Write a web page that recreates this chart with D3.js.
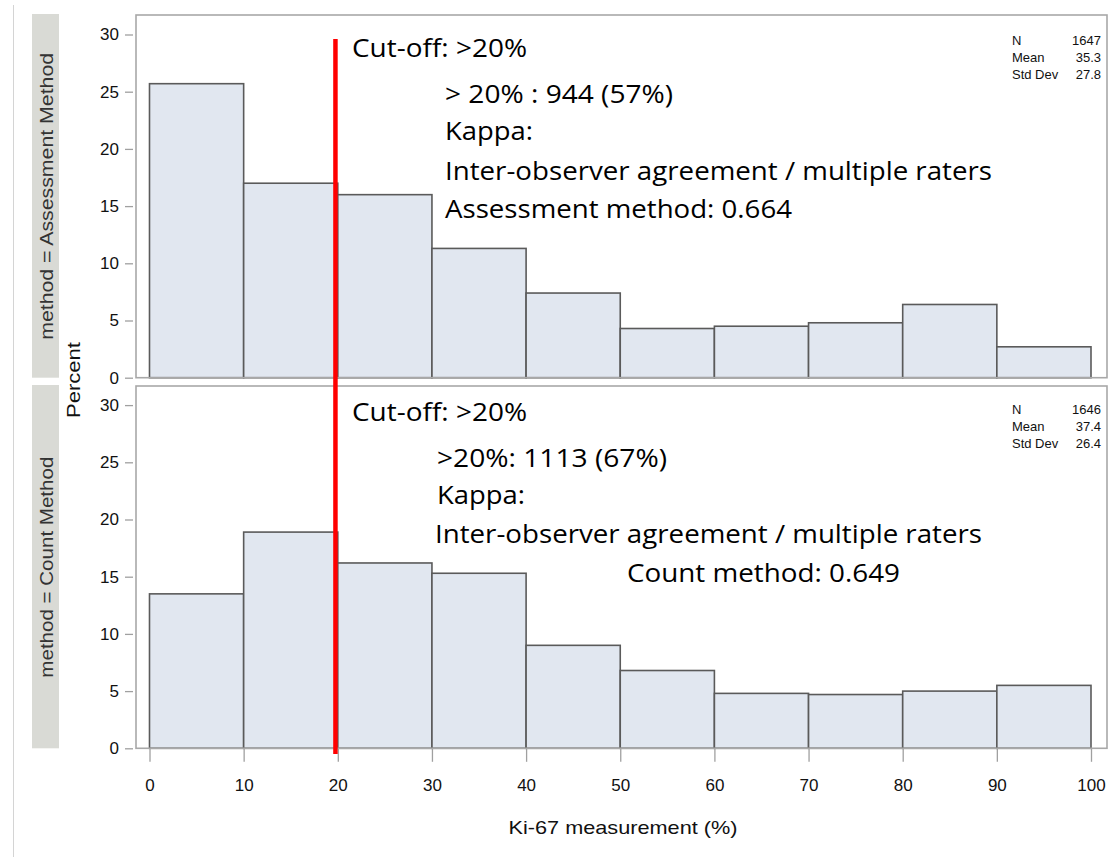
<!DOCTYPE html>
<html><head><meta charset="utf-8">
<script src="https://cdn.jsdelivr.net/npm/d3@7"></script>
<style>html,body{margin:0;padding:0;background:#fff;} svg{display:block;}</style>
</head><body>
<svg id="chart" width="1112" height="857"></svg>
<script>
// ---------- data ----------
const binEdges = [0, 10, 20, 30, 40, 50, 60, 70, 80, 90, 100];
const xTickValues = [0, 10, 20, 30, 40, 50, 60, 70, 80, 90, 100];
const yTickValues = [0, 5, 10, 15, 20, 25, 30];
const panelNames = ["method = Assessment Method", "method = Count Method"];
const assessmentPct = [25.7, 17.0, 16.0, 11.3, 7.4, 4.3, 4.5, 4.8, 6.4, 2.7];
const countPct = [13.5, 18.9, 16.2, 15.3, 9.0, 6.8, 4.8, 4.7, 5.0, 5.5];
const statLabels = ["N", "Mean", "Std Dev"];
const assessmentStats = ["1647", "35.3", "27.8"];
const countStats = ["1646", "37.4", "26.4"];
const cutoffValue = 19.75;
const cutoffTop = 29.6;
const assessmentNotes = ["Cut-off: >20%", "> 20% : 944 (57%)", "Kappa:", "Inter-observer agreement / multiple raters", "Assessment method: 0.664"];
const countNotes = ["Cut-off: >20%", ">20%: 1113 (67%)", "Kappa:", "Inter-observer agreement / multiple raters", "Count method: 0.649"];
const xTitle = "Ki-67 measurement (%)";
const yTitle = "Percent";

// ---------- layout ----------
const svg = d3.select("#chart");
const frameL = 136, frameR = 1107;
const panels = [
  {name: panelNames[0], values: assessmentPct, stats: assessmentStats, notes: assessmentNotes,
   top: 15, bottom: 377.7,
   noteX: [352, 445, 445, 445, 445], noteY: [57, 103, 140, 180, 218], noteW: [175, 228, 88, 547, 347],
   statY: [45, 62, 78.5]},
  {name: panelNames[1], values: countPct, stats: countStats, notes: countNotes,
   top: 386, bottom: 748.3,
   noteX: [352, 437, 437, 435, 627], noteY: [421, 467, 504, 543, 582], noteW: [175, 230, 88, 547, 273],
   statY: [414, 431, 447.5]}
];
const x = d3.scaleLinear().domain([0, 100]).range([149.5, 1091]);
const unitPx = 11.44;
panels.forEach(p => {
  p.y = d3.scaleLinear().domain([0, 30]).range([p.bottom, p.bottom - 30 * unitPx]);
});

// outer left border
svg.append("line").attr("x1", 13.5).attr("x2", 13.5).attr("y1", 5).attr("y2", 857)
  .attr("stroke", "#d4d4d4").attr("stroke-width", 1);

const sasFont = "'Liberation Sans', Arial, sans-serif";
const noteFont = "'Open Sans', 'Noto Sans', sans-serif";

panels.forEach((p, pi) => {
  const g = svg.append("g");
  // strip
  g.append("rect").attr("x", 32).attr("y", p.top - 1).attr("width", 27).attr("height", p.bottom - p.top + 1)
    .attr("fill", "#d9dad5");
  const sl = g.append("text")
    .attr("transform", `translate(53,${(p.top + p.bottom) / 2}) rotate(-90)`)
    .attr("text-anchor", "middle").attr("font-family", sasFont).attr("font-size", 19)
    .attr("fill", "#333").text(p.name);
  sl.attr("textLength", pi === 0 ? 287 : 221).attr("lengthAdjust", "spacingAndGlyphs");

  // bars
  const bins = p.values.map((v, i) => ({x0: binEdges[i], x1: binEdges[i + 1], v}));
  g.selectAll("rect.bar").data(bins).join("rect").attr("class", "bar")
    .attr("x", d => x(d.x0)).attr("width", d => x(d.x1) - x(d.x0))
    .attr("y", d => p.y(d.v)).attr("height", d => p.y(0) - p.y(d.v))
    .attr("fill", "#e1e7f0").attr("stroke", "#5a5a5a").attr("stroke-width", 1.6);

  // frame
  g.append("rect").attr("x", frameL).attr("y", p.top).attr("width", frameR - frameL).attr("height", p.bottom - p.top)
    .attr("fill", "none").attr("stroke", "#a8a8a8").attr("stroke-width", 1.6);

  // y axis
  const yAxis = d3.axisLeft(p.y).tickValues(yTickValues).tickSize(8).tickPadding(6);
  const ya = g.append("g").attr("transform", `translate(${frameL - 3},0)`).call(yAxis);
  ya.select(".domain").remove();
  ya.selectAll(".tick line").attr("stroke", "#a0a0a0").attr("stroke-width", 1.3);
  ya.selectAll(".tick text").attr("font-family", sasFont).attr("font-size", 17).attr("fill", "#111");

  // stats
  const st = g.append("g").attr("font-family", sasFont).attr("font-size", 13).attr("fill", "#111");
  statLabels.forEach((lab, i) => {
    st.append("text").attr("x", 1012).attr("y", p.statY[i]).text(lab);
    st.append("text").attr("x", 1101).attr("y", p.statY[i]).attr("text-anchor", "end").text(p.stats[i]);
  });

  // notes
  p.notes.forEach((t, i) => {
    g.append("text").attr("x", p.noteX[i]).attr("y", p.noteY[i])
      .attr("font-family", noteFont).attr("font-size", 25).attr("fill", "#000")
      .attr("textLength", p.noteW[i]).attr("lengthAdjust", "spacingAndGlyphs").text(t);
  });
});

// x axis on bottom panel
const bp = panels[1];
const xAxis = d3.axisBottom(x).tickValues(xTickValues).tickSize(13).tickPadding(17);
const xa = svg.append("g").attr("transform", `translate(0,${bp.bottom + 0.5})`).call(xAxis);
xa.select(".domain").remove();
xa.selectAll(".tick line").attr("stroke", "#a0a0a0").attr("stroke-width", 1.3);
xa.selectAll(".tick text").attr("font-family", sasFont).attr("font-size", 17).attr("fill", "#111");

// axis titles
svg.append("text").attr("x", 623).attr("y", 834).attr("text-anchor", "middle")
  .attr("font-family", sasFont).attr("font-size", 19).attr("fill", "#111")
  .attr("textLength", 229).attr("lengthAdjust", "spacingAndGlyphs").text(xTitle);
svg.append("text").attr("transform", "translate(80,380) rotate(-90)").attr("text-anchor", "middle")
  .attr("font-family", sasFont).attr("font-size", 19).attr("fill", "#111")
  .attr("textLength", 76).attr("lengthAdjust", "spacingAndGlyphs").text(yTitle);

// cut-off line spanning both panels
svg.append("line")
  .attr("x1", x(cutoffValue)).attr("x2", x(cutoffValue))
  .attr("y1", panels[0].y(cutoffTop)).attr("y2", panels[1].y(-0.5))
  .attr("stroke", "#ff0000").attr("stroke-width", 4.5);
</script>
</body></html>
